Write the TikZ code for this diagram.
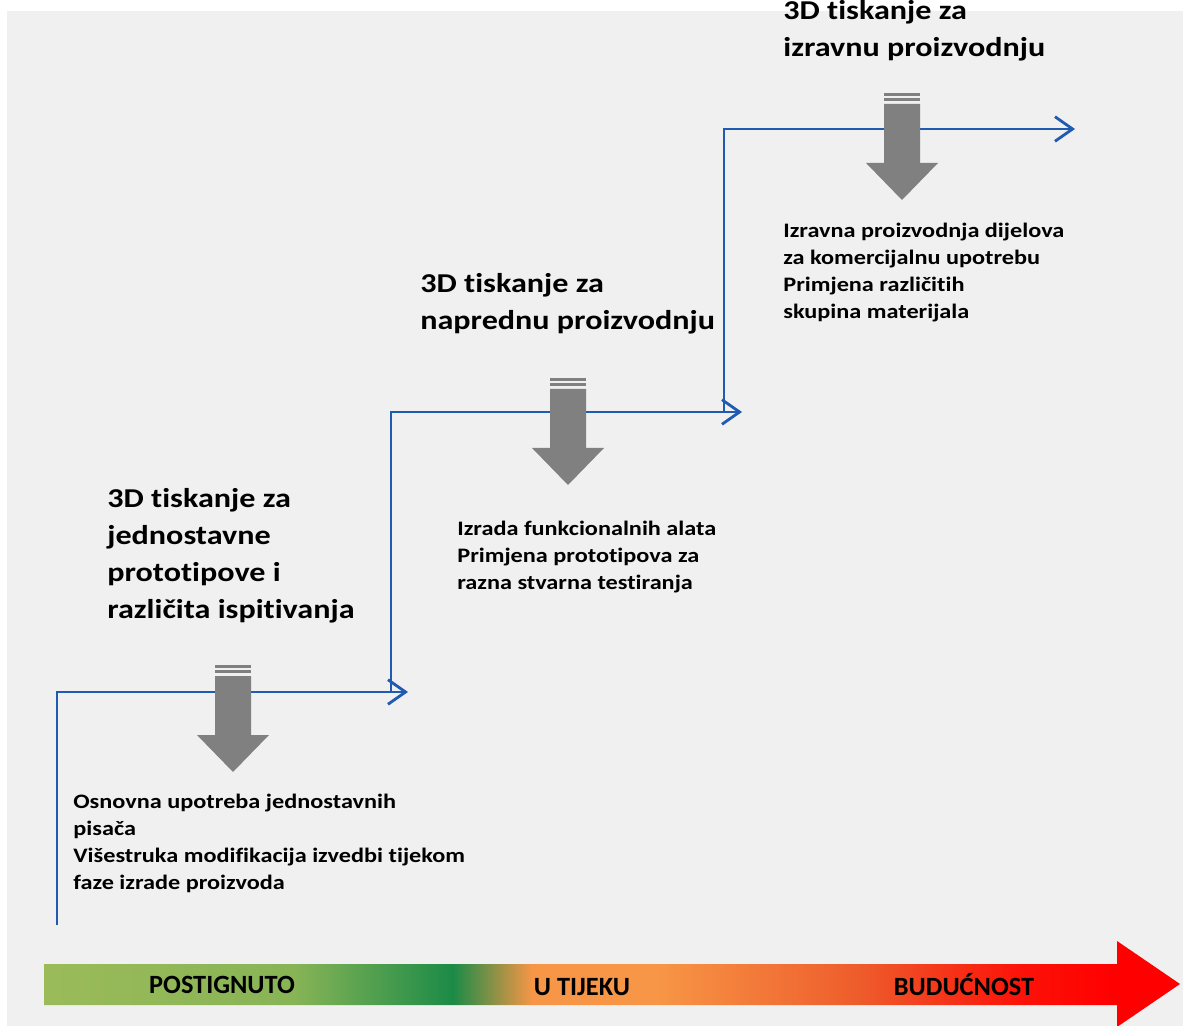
\documentclass[tikz,border=0pt]{standalone}
\usepackage{fontspec}
\setmainfont{Carlito}[Ligatures=NoCommon]
\newfontfamily\widefont{Carlito}[FakeStretch=1.18, Ligatures=NoCommon]
\usetikzlibrary{positioning,arrows.meta}
\definecolor{bggray}{HTML}{F0F0F0}
\definecolor{stepblue}{HTML}{1F5BB0}
\definecolor{markgray}{HTML}{808080}
\definecolor{pgreen}{HTML}{9BBB59}
\definecolor{dgreen}{HTML}{1B8B47}
\definecolor{porange}{HTML}{F79646}
\definecolor{rorange}{HTML}{EE5B2B}
\definecolor{pred}{HTML}{FF0000}
\pgfdeclarehorizontalshading{progress}{100bp}{color(0bp)=(pgreen); color(25bp)=(pgreen); color(36bp)=(pgreen!85!dgreen); color(43bp)=(dgreen); color(46.5bp)=(porange); color(52bp)=(porange); color(61bp)=(rorange); color(68bp)=(pred!80!rorange); color(72bp)=(pred); color(100bp)=(pred)}
% grey down arrow with two stripes: #1 centre x, #2 top y
\newcommand{\downmark}[2]{%
  \fill[markgray] (#1-18,#2) rectangle (#1+18,#2+3);
  \fill[markgray] (#1-18,#2+5) rectangle (#1+18,#2+8);
  \fill[markgray] (#1-18,#2+11) -- (#1+18,#2+11) -- (#1+18,#2+70) -- (#1+36,#2+70)
    -- (#1,#2+107) -- (#1-36,#2+70) -- (#1-18,#2+70) -- cycle;}

\begin{document}
\begin{tikzpicture}[x=0.02cm,y=-0.02cm,
    stepline/.style={draw=stepblue, line width=1.6pt, -{Straight Barb[length=10pt,width=14pt,line width=1.6pt]}},
    headtext/.style={anchor=north west, inner sep=0pt, align=left, font=\widefont\bfseries\fontsize{15.5}{21}\selectfont},
    desctext/.style={anchor=north west, inner sep=0pt, align=left, font=\widefont\bfseries\fontsize{11.7}{15.4}\selectfont},
    bartext/.style={inner sep=0pt, font=\bfseries\fontsize{15}{18}\selectfont}]
  \useasboundingbox (0,0) rectangle (1183,1026);
  \fill[white] (0,0) rectangle (1183,1026);
  \fill[bggray] (7,11) rectangle (1183,1026);

  % the three steps
  \coordinate (a0) at (57,925);
  \coordinate (a1) at (408,692);
  \coordinate (b0) at (391,692);
  \coordinate (b1) at (742,412);
  \coordinate (c0) at (724,412);
  \coordinate (c1) at (1075,129);
  \draw [stepline] (a0) |- (a1);
  \draw [stepline] (b0) |- (b1);
  \draw [stepline] (c0) |- (c1);

  \downmark{233}{665}
  \downmark{568}{378}
  \downmark{902}{93}

  % headings
  \node (h1) [headtext] at (107,488) {3D tiskanje za\\jednostavne\\prototipove i\\različita ispitivanja};
  \node (h2) [headtext] at (420,273) {3D tiskanje za\\naprednu proizvodnju};
  \node (h3) [headtext] at (783,0) {3D tiskanje za\\izravnu proizvodnju};

  % descriptions
  \node (d1) [desctext] at (73,794) {Osnovna upotreba jednostavnih\\pisača\\Višestruka modifikacija izvedbi tijekom\\faze izrade proizvoda};
  \node (d2) [desctext] at (457,521) {Izrada funkcionalnih alata\\Primjena prototipova za\\razna stvarna testiranja};
  \node (d3) [desctext] at (783,223) {Izravna proizvodnja dijelova\\za komercijalnu upotrebu\\Primjena različitih\\skupina materijala};

  % progress bar
  \shade[shading=progress] (44,964) -- (1117,964) -- (1117,941) -- (1180,984)
    -- (1117,1027) -- (1117,1005) -- (44,1005) -- cycle;
  \node (p1) [bartext] at (222,985) {POSTIGNUTO};
  \node (p2) [bartext] at (582,987) {U TIJEKU};
  \node (p3) [bartext] at (964,985) {BUDUĆNOST};
\end{tikzpicture}
\end{document}
